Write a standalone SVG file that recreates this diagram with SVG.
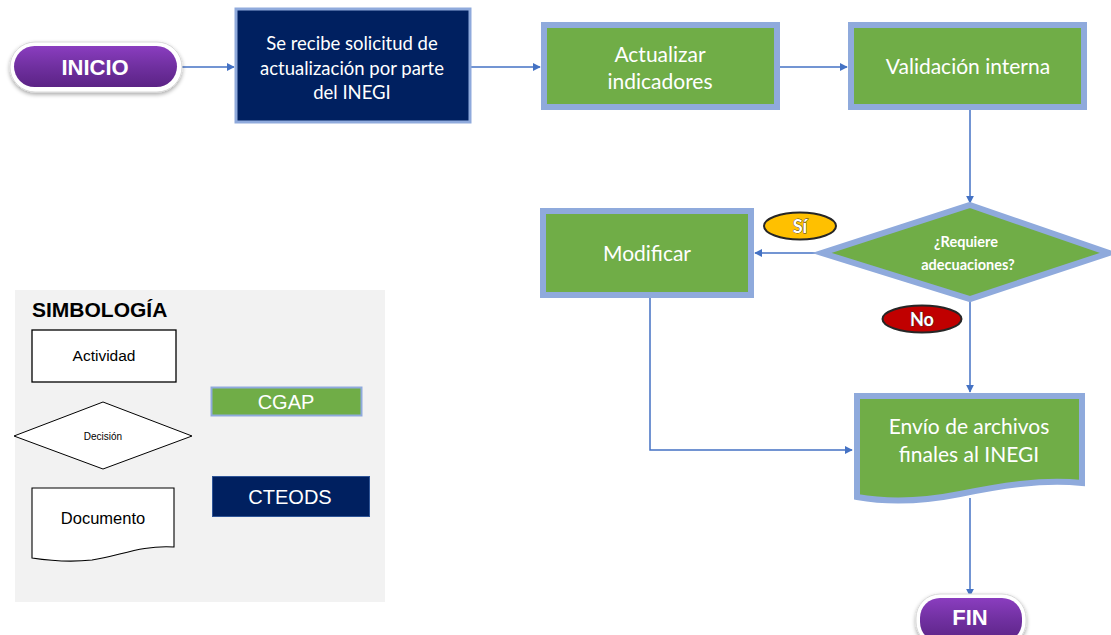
<svg xmlns="http://www.w3.org/2000/svg" width="1111" height="635" viewBox="0 0 1111 635">
<defs>
<style>
.green{fill:#70AD47;stroke:#8FAADC;stroke-width:6}
.navy{fill:#002060;stroke:#8FAADC;stroke-width:3}
.wt{fill:#FFFFFF;font-family:Lato,"Open Sans",sans-serif;text-anchor:middle}
.lg{fill:#000;font-family:"Liberation Sans",Arial,sans-serif;text-anchor:middle}
.conn{fill:none;stroke:#4472C4;stroke-width:1.5}
.pillw{fill:#FFFFFF;stroke:#D9D9D9;stroke-width:1}
.pt{fill:#FFFFFF;font-family:"Liberation Sans",Arial,sans-serif;font-weight:bold;text-anchor:middle}
.lbl{fill:#FFFFFF;stroke:#3A3A3A;stroke-width:0.8;paint-order:stroke;font-family:Lato,"Open Sans",sans-serif;font-weight:bold;text-anchor:middle}
</style>
<linearGradient id="purp" x1="0" y1="0" x2="0" y2="1">
<stop offset="0" stop-color="#8A3DBF"/>
<stop offset="0.5" stop-color="#7030A0"/>
<stop offset="1" stop-color="#5B2385"/>
</linearGradient>
<filter id="sh" x="-20%" y="-30%" width="140%" height="170%">
<feGaussianBlur in="SourceAlpha" stdDeviation="2"/>
<feOffset dx="0" dy="2" result="b"/>
<feComponentTransfer><feFuncA type="linear" slope="0.35"/></feComponentTransfer>
<feMerge><feMergeNode/><feMergeNode in="SourceGraphic"/></feMerge>
</filter>
<marker id="arr" viewBox="0 0 10 10" refX="9" refY="5" markerWidth="8" markerHeight="8" markerUnits="userSpaceOnUse" orient="auto">
<path d="M0,0 L10,5 L0,10 Z" fill="#4472C4"/>
</marker>
</defs>
<rect width="1111" height="635" fill="#FFFFFF"/>

<g id="connectors">
<path class="conn" d="M182,67 H234" marker-end="url(#arr)"/>
<path class="conn" d="M471,67 H540" marker-end="url(#arr)"/>
<path class="conn" d="M779,67 H847" marker-end="url(#arr)"/>
<path class="conn" d="M970,110 V203" marker-end="url(#arr)"/>
<path class="conn" d="M820,253 H755" marker-end="url(#arr)"/>
<path class="conn" d="M970,300 V392" marker-end="url(#arr)"/>
<path class="conn" d="M650,297 V450 H852" marker-end="url(#arr)"/>
<path class="conn" d="M970,498 V596" marker-end="url(#arr)"/>
</g>

<g id="inicio">
<rect class="pillw" x="10" y="42" width="172" height="50" rx="25" filter="url(#sh)"/>
<rect x="14" y="46" width="163" height="41" rx="20.5" fill="url(#purp)"/>
<text class="pt" x="95" y="75" font-size="22">INICIO</text>
</g>

<g id="recibe">
<rect class="navy" x="236" y="9" width="234" height="113"/>
<text class="wt" font-size="18.5"><tspan x="352" y="50">Se recibe solicitud de</tspan><tspan x="352" y="75">actualización por parte</tspan><tspan x="352" y="99">del INEGI</tspan></text>
</g>

<g id="actualizar">
<rect class="green" x="544" y="25" width="233" height="82"/>
<text class="wt" font-size="21"><tspan x="660" y="62">Actualizar</tspan><tspan x="660" y="89">indicadores</tspan></text>
</g>

<g id="validacion">
<rect class="green" x="851" y="25" width="233" height="82"/>
<text class="wt" font-size="21" x="968" y="74">Validación interna</text>
</g>

<g id="decision">
<polygon class="green" points="970,205 1109,253 970,299 822,253" stroke-width="5"/>
<text class="wt" font-size="14.5" font-weight="bold"><tspan x="966" y="247">¿Requiere</tspan><tspan x="968" y="270">adecuaciones?</tspan></text>
</g>

<g id="si">
<ellipse cx="800" cy="226" rx="36" ry="13.5" fill="#FFC000" stroke="#262626" stroke-width="2"/>
<text class="lbl" x="800" y="233" font-size="18">Sí</text>
</g>

<g id="no">
<ellipse cx="922" cy="319" rx="39.5" ry="13.5" fill="#C00000" stroke="#262626" stroke-width="2"/>
<text class="lbl" x="922" y="326" font-size="18">No</text>
</g>

<g id="modificar">
<rect class="green" x="543" y="211" width="208" height="84"/>
<text class="wt" font-size="21" x="647" y="261">Modificar</text>
</g>

<g id="envio">
<path class="green" d="M857,396 H1082 V483 C1040,479 1000,486 960,494 C920,502 885,502 857,497 Z"/>
<text class="wt" font-size="21"><tspan x="969" y="434">Envío de archivos</tspan><tspan x="969" y="462">finales al INEGI</tspan></text>
</g>

<g id="fin">
<rect class="pillw" x="916" y="594" width="110" height="52" rx="24" filter="url(#sh)"/>
<rect x="920" y="598" width="102" height="44" rx="20" fill="url(#purp)"/>
<text class="pt" x="970" y="625" font-size="22">FIN</text>
</g>

<g id="simbologia">
<rect x="15" y="290" width="370" height="312" fill="#F2F2F2"/>
<text x="32" y="317" font-family="'Liberation Sans',Arial,sans-serif" font-weight="bold" font-size="21" fill="#000">SIMBOLOGÍA</text>
<rect x="32" y="330" width="144" height="52" fill="#FFFFFF" stroke="#000" stroke-width="1.3"/>
<text class="lg" x="104" y="361" font-size="15.5">Actividad</text>
<polygon points="103,402 192,436 103,469 14,436" fill="#FFFFFF" stroke="#000" stroke-width="1"/>
<text class="lg" x="103" y="440" font-size="10" fill="#333">Decisión</text>
<path d="M32,488 H174 V547 C140,545 120,556 92,560 C65,563 45,560 32,558 Z" fill="#FFFFFF" stroke="#000" stroke-width="1.1"/>
<text class="lg" x="103" y="524" font-size="16.5">Documento</text>
<rect x="211.5" y="387.5" width="150" height="28" fill="#70AD47" stroke="#8FAADC" stroke-width="2"/>
<text x="286" y="409" font-family="'Liberation Sans',Arial,sans-serif" font-size="20" fill="#FFFFFF" text-anchor="middle">CGAP</text>
<rect x="212.5" y="476.5" width="157" height="40" fill="#002060" stroke="#2F5597" stroke-width="1"/>
<text x="290" y="504" font-family="'Liberation Sans',Arial,sans-serif" font-size="20" fill="#FFFFFF" text-anchor="middle">CTEODS</text>
</g>
</svg>
